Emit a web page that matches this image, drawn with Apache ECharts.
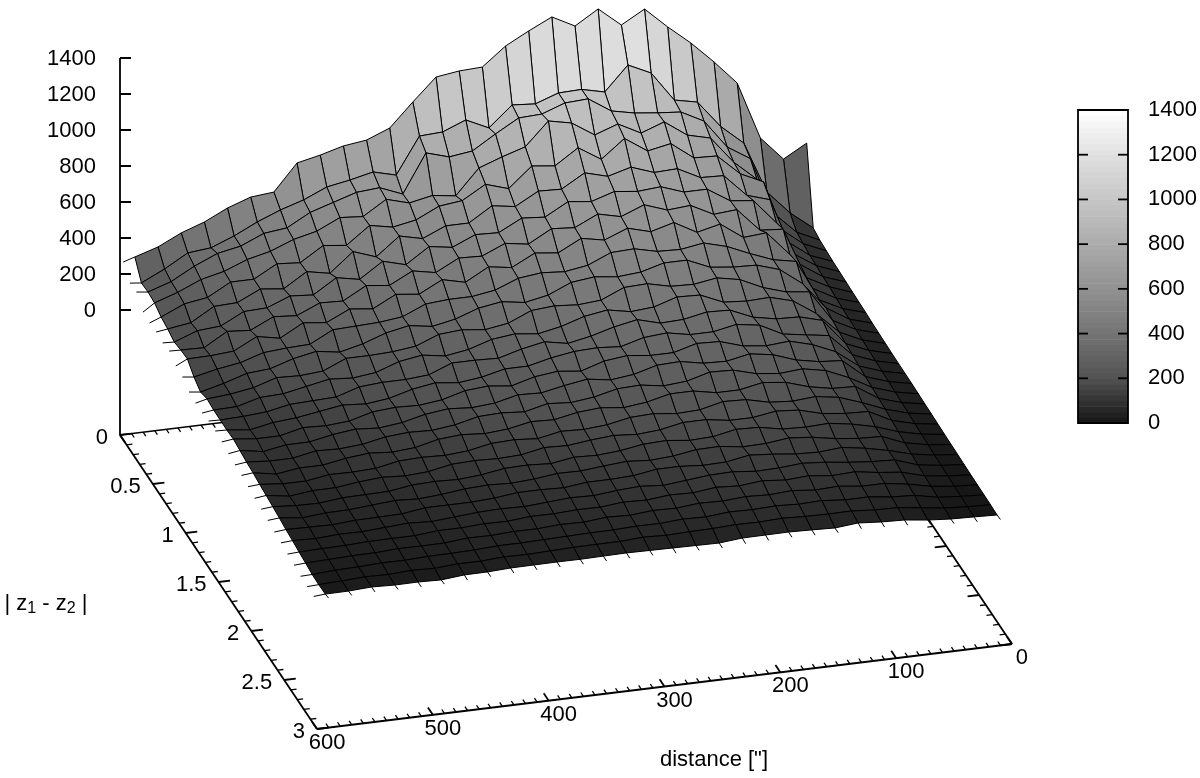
<!DOCTYPE html>
<html><head><meta charset="utf-8">
<script src="https://cdn.jsdelivr.net/npm/echarts@6/dist/echarts.min.js"></script>
<style>html,body{margin:0;padding:0;background:#fff}#c{width:1200px;height:778px}</style>
</head><body><div id="c"></div>
<script>
const distances=[590,570,550,530,510,490,470,450,430,410,390,370,350,330,310,290,270,250,230,210,190,170,150,130,110,90,70,50,30,10];
const separations=[0.05,0.15,0.25,0.35,0.45,0.55,0.65,0.75,0.85,0.95,1.05,1.15,1.25,1.35,1.45,1.55,1.65,1.75,1.85,1.95,2.05,2.15,2.25,2.35,2.45,2.55,2.65,2.75,2.85,2.95];
const z00=[314,354,416,461,523,568,580,726,754,789,806,857,986,1109,1127,1133,1234,1302,1364,1298,1377,1272,1345,1230,1125,1004,871,550,417,490];
const z01=[224,286,359,372,422,484,535,575,631,654,683,650,851,858,909,849,961,951,996,1000,970,1104,1044,878,851,700,592,304,172,73];
const z02=[228,270,340,395,420,475,490,560,600,640,650,599,812,774,791,870,943,949,995,1002,919,892,877,866,800,640,560,240,120,60];
const z03=[222,265,320,350,400,430,480,510,570,560,640,604,630,612,751,797,837,965,938,856,901,835,881,792,760,610,500,210,110,55];
const z04=[198,255,275,345,345,415,405,485,470,565,540,564,625,640,715,675,785,770,855,775,875,790,815,720,715,600,540,195,100,50];
const z05=[186,205,280,285,345,330,410,385,490,445,545,515,570,570,650,630,700,695,770,735,770,725,730,665,660,535,495,180,97,48];
const z06=[168,215,225,290,295,345,335,415,390,475,440,525,505,560,555,620,610,680,665,705,690,700,655,655,575,560,420,175,90,45];
const z07=[178,175,250,240,300,290,345,340,410,395,460,435,500,495,550,530,600,590,650,620,670,625,635,570,580,450,440,155,88,42];
const z08=[183,185,195,260,235,305,290,350,335,400,385,450,420,490,470,535,520,585,560,610,575,610,540,570,480,490,355,150,80,40];
const z09=[137,165,185,225,235,240,305,310,315,330,385,395,395,415,465,480,470,490,545,550,520,515,535,500,445,395,370,140,76,38];
const z10=[108,140,180,190,230,255,235,265,310,335,315,340,385,405,385,410,465,480,465,475,510,510,455,440,435,395,300,150,72,34];
const z11=[124,135,155,195,190,200,255,255,260,275,325,335,320,340,395,405,395,405,460,465,435,430,450,425,365,325,310,135,70,32];
const z12=[117,120,155,160,185,210,200,215,260,280,260,280,320,335,320,345,385,405,380,390,430,425,370,360,365,330,245,125,65,30];
const z13=[116,120,130,155,160,165,205,215,215,225,275,275,270,305,330,305,330,365,390,355,360,385,380,325,300,295,260,115,62,28];
const z14=[115,100,125,135,155,175,165,180,215,235,220,235,265,265,295,315,320,310,345,355,330,330,355,335,270,250,230,108,58,27];
const z15=[119,105,105,135,130,140,175,185,180,195,230,240,225,260,275,260,300,315,300,300,335,330,290,275,285,250,195,100,55,26];
const z16=[110,88,110,110,135,150,140,155,185,200,190,200,230,225,250,270,250,265,300,305,280,275,300,280,235,210,200,95,52,25];
const z17=[100,90,90,115,110,120,145,155,150,165,195,200,190,220,210,225,255,260,240,250,285,280,245,230,240,215,160,90,48,23];
const z18=[95,72,90,90,112,125,115,125,155,165,155,165,190,185,210,220,205,220,250,250,225,225,250,235,195,170,165,84,44,21];
const z19=[85,72,72,92,90,95,120,125,120,130,155,160,150,175,170,180,205,210,195,200,230,225,195,185,195,175,130,78,40,19];
const z20=[78,58,73,74,90,100,92,100,125,130,125,130,155,150,165,175,165,175,200,200,180,180,200,190,155,140,135,70,36,17];
const z21=[70,60,58,72,74,76,95,100,95,105,125,128,120,140,135,145,165,170,155,160,185,180,155,150,155,135,105,62,32,15];
const z22=[62,47,58,60,70,80,73,82,97,103,97,105,120,118,130,140,130,138,158,160,142,145,160,148,125,110,105,54,28,13];
const z23=[52,49,47,56,58,60,78,78,78,85,100,100,95,110,110,115,135,135,125,128,150,140,125,120,130,110,82,46,25,12];
const z24=[45,40,48,47,55,63,56,66,76,80,76,85,94,90,103,110,100,112,125,128,115,118,128,118,102,90,84,40,22,10];
const z25=[36,39,41,47,48,48,60,60,67,65,76,75,82,80,93,88,101,97,112,104,117,105,113,98,104,84,70,34,18,8];
const z26=[29,33,38,39,46,45,46,58,56,63,62,70,67,79,74,85,82,94,90,99,93,101,88,94,78,78,58,30,15,7];
const z27=[20,28,31,37,36,42,43,46,53,53,56,59,62,63,68,67,76,72,84,81,86,80,84,72,73,57,50,24,13,6];
const z28=[18,23,30,27,34,30,39,38,46,44,48,52,53,53,61,56,60,62,68,66,72,66,64,65,55,52,36,18,10,5];
const z29=[20,21,28,23,24,20,32,33,39,40,41,40,42,44,42,40,38,36,48,49,50,46,41,53,43,38,22,12,8,3];
const zRows=[z00,z01,z02,z03,z04,z05,z06,z07,z08,z09,z10,z11,z12,z13,z14,z15,z16,z17,z18,z19,z20,z21,z22,z23,z24,z25,z26,z27,z28,z29];
const edgeZatD600=[294,231,236,179,173,177,171,180,152,145,116,109,108,118,117,111,100,92,88,80,70,64,56,46,40,32,25,18,15,15];
const edgeZatS3=[25,24,28,26,24,24,30,34,38,40,40,40,42,42,42,38,38,36,44,46,48,44,42,48,42,36,24,14,8,5];
const zTicks=[0,200,400,600,800,1000,1200,1400];
const sTicks=[0,0.5,1,1.5,2,2.5,3];
const sMinorTicks=[0.1,0.2,0.3,0.4,0.6,0.7,0.8,0.9,1.1,1.2,1.3,1.4,1.6,1.7,1.8,1.9,2.1,2.2,2.3,2.4,2.6,2.7,2.8,2.9];
const dTicks=[0,100,200,300,400,500,600];
const dMinorTicks=[10,20,30,40,50,60,70,80,90,110,120,130,140,150,160,170,180,190,210,220,230,240,250,260,270,280,290,310,320,330,340,350,360,370,380,390,410,420,430,440,450,460,470,480,490,510,520,530,540,550,560,570,580,590];
const barLevels=[0,25,50,75,100,125,150,175,200,225,250,275,300,325,350,375,400,425,450,475,500,525,550,575,600,625,650,675,700,725,750,775,800,825,850,875,900,925,950,975,1000,1025,1050,1075,1100,1125,1150,1175,1200,1225,1250,1275,1300,1325,1350,1375];
const barStep=25;
const grayStops=['#141414','#525252','#747474','#919191','#ababab','#c6c6c6','#e0e0e0','#ffffff'];
const FONT='"Liberation Sans", Arial, sans-serif', FS=22;

// orthographic view of (distance, separation, height) onto the page
const view={ox:120,oy:310,dx:-1.1583,dy:0.14167,sx:65.67,sy:98,zy:-0.18,dRef:600};
function px(d,s,z){return [view.ox+(d-view.dRef)*view.dx+s*view.sx, view.oy+(d-view.dRef)*view.dy+s*view.sy+z*view.zy];}
const BASE=-125/0.18;

const cells=[];
for(let r=0;r<29;r++)for(let k=28;k>=0;k--){
  const m=(zRows[r][k]+zRows[r][k+1]+zRows[r+1][k]+zRows[r+1][k+1])/4;
  cells.push([r,k,m]);
}
function renderCell(p,api){
  const r=api.value(0),k=api.value(1);
  const pts=[[k,r],[k+1,r],[k+1,r+1],[k,r+1]].map(([a,b])=>api.coord(px(distances[a],separations[b],zRows[b][a])));
  return {type:'polygon',shape:{points:pts},style:{fill:api.visual('color'),stroke:'#000',lineWidth:1}};
}
const frame=[];
function seg(a,b,w){frame.push({t:'l',a,b,w});}
function lab(p,text,align,extra){frame.push({t:'t',p,text,align,extra});}
seg(px(600,0,BASE),px(0,0,BASE),1.6);
seg(px(0,0,BASE),px(0,3,BASE),1.8);
seg(px(0,3,BASE),px(600,3,BASE),1.8);
seg(px(600,3,BASE),px(600,0,BASE),1.8);
seg(px(600,0,BASE),px(600,0,1400),1.8);
zTicks.forEach(z=>{const a=px(600,0,z);seg(a,[a[0]+11,a[1]],2);lab([a[0]-24,a[1]+1],String(z),'right');});
sTicks.forEach(s=>{
  seg(px(600,s,BASE),px(590,s,BASE),1.8);seg(px(0,s,BASE),px(10,s,BASE),1.8);
  const a=px(600,s,BASE);lab([a[0]-12,a[1]+3],String(s),'right');
});
sMinorTicks.forEach(s=>{seg(px(600,s,BASE),px(595,s,BASE),1.3);seg(px(0,s,BASE),px(5,s,BASE),1.3);});
dTicks.forEach(d=>{
  seg(px(d,3,BASE),px(d,2.925,BASE),1.8);seg(px(d,0,BASE),px(d,0.075,BASE),1.8);
  const a=px(d,3,BASE);lab([a[0]+10,a[1]+14],String(d),'center');
});
dMinorTicks.forEach(d=>{seg(px(d,3,BASE),px(d,2.96,BASE),1.3);seg(px(d,0,BASE),px(d,0.04,BASE),1.3);});
lab([714,760],'distance ["]','center');
frame.push({t:'t',p:[46,604],text:'| z{sub|1} - z{sub|2} |',align:'center',extra:{rich:{sub:{fontSize:16,fontFamily:FONT,fill:'#000',padding:[9,0,0,0]}}}});
function renderFrame(p,api){
  const f=frame[api.value(0)];
  if(f.t==='l'){
    const a=api.coord(f.a),b=api.coord(f.b);
    return {type:'line',shape:{x1:a[0],y1:a[1],x2:b[0],y2:b[1]},style:{stroke:'#000',lineWidth:f.w}};
  }
  const a=api.coord(f.p);
  return {type:'text',x:a[0],y:a[1],style:Object.assign({text:f.text,fill:'#000',font:FS+'px '+FONT,align:f.align,verticalAlign:'middle'},f.extra||{})};
}
const spokes=[];
separations.forEach((s,r)=>spokes.push([distances[0],s,zRows[r][0],600,s,edgeZatD600[r]]));
distances.forEach((d,k)=>spokes.push([d,separations[29],z29[k],d,3,edgeZatS3[k]]));
function renderSpoke(p,api){
  const a=api.coord(px(api.value(0),api.value(1),api.value(2))),b=api.coord(px(api.value(3),api.value(4),api.value(5)));
  return {type:'line',shape:{x1:a[0],y1:a[1],x2:b[0],y2:b[1]},style:{stroke:'#000',lineWidth:1}};
}
function renderBand(p,api){
  const v=api.value(0);
  const a=api.coord([0,v]),b=api.coord([1,v+barStep]);
  return {type:'rect',shape:{x:a[0],y:b[1],width:b[0]-a[0],height:a[1]-b[1]+0.6},style:{fill:api.visual('color')}};
}
function renderBarTick(p,api){
  const v=api.value(0);
  const a=api.coord([0,v]),b=api.coord([1,v]);
  const st={stroke:'#000',lineWidth:1.8};
  return {type:'group',children:[
    {type:'line',shape:{x1:a[0],y1:a[1],x2:a[0]+10,y2:a[1]},style:st},
    {type:'line',shape:{x1:b[0]-10,y1:b[1],x2:b[0],y2:b[1]},style:st}]};
}
const chart=echarts.init(document.getElementById('c'));
const hidden={show:false};
chart.setOption({
  animation:false,backgroundColor:'#fff',
  grid:[{left:0,top:0,width:1200,height:778,show:false},
        {left:1078,top:110,width:50,height:313,show:true,backgroundColor:'transparent',borderColor:'#000',borderWidth:1.8,z:6}],
  xAxis:[{type:'value',min:0,max:1200,gridIndex:0,show:false},{type:'value',min:0,max:1,gridIndex:1,show:false}],
  yAxis:[{type:'value',min:0,max:778,inverse:true,gridIndex:0,show:false},
    {type:'value',min:0,max:1400,interval:200,gridIndex:1,position:'right',z:6,splitLine:hidden,axisLine:hidden,axisTick:hidden,
     axisLabel:{margin:20,color:'#000',fontFamily:'Liberation Sans',fontSize:FS,align:'left',padding:[4,0,0,0],formatter:v=>String(v)}}],
  visualMap:{type:'continuous',show:false,seriesIndex:[2,3],dimension:2,min:0,max:1400,inRange:{color:grayStops}},
  series:[
    {type:'custom',name:'frame',xAxisIndex:0,yAxisIndex:0,silent:true,z:2,renderItem:renderFrame,data:frame.map((f,i)=>[i]),encode:{x:[],y:[]},clip:false},
    {type:'custom',name:'edge',xAxisIndex:0,yAxisIndex:0,silent:true,z:3,renderItem:renderSpoke,data:spokes,encode:{x:[],y:[]},clip:false},
    {type:'custom',name:'surface',xAxisIndex:0,yAxisIndex:0,silent:true,z:4,renderItem:renderCell,data:cells,encode:{x:[],y:[]},clip:false,progressive:0},
    {type:'custom',name:'colorbar',xAxisIndex:1,yAxisIndex:1,silent:true,z:1,renderItem:renderBand,data:barLevels.map(v=>[v,0,v+barStep/2]),encode:{x:[],y:[]},clip:false,progressive:0},
    {type:'custom',name:'colorbarTicks',xAxisIndex:1,yAxisIndex:1,silent:true,z:7,renderItem:renderBarTick,data:zTicks.map(v=>[v]),encode:{x:[],y:[]},clip:false}
  ]
});
</script></body></html>
